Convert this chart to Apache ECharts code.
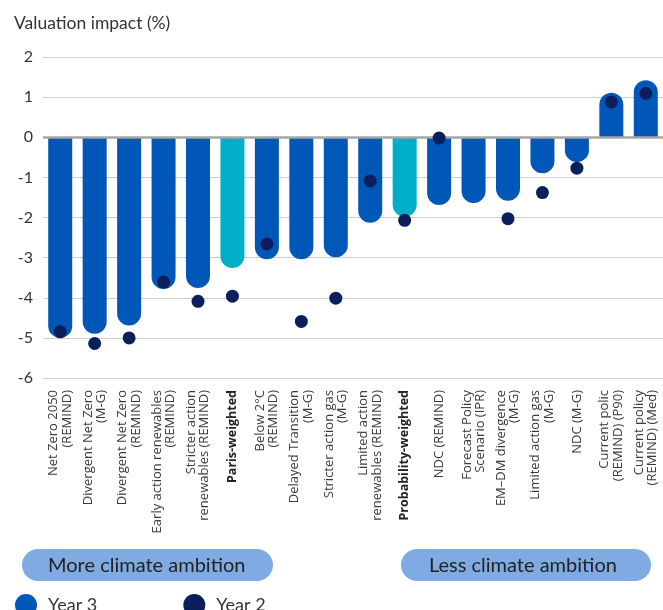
<!DOCTYPE html>
<html><head><meta charset="utf-8">
<script src="https://cdn.jsdelivr.net/npm/echarts@6/dist/echarts.min.js"></script>
<style>html,body{margin:0;padding:0;background:#fff}#c{width:663px;height:610px}</style>
</head><body><div id="c"></div>
<script>
const categories = [
  "Net Zero 2050\n(REMIND)",
  "Divergent Net Zero\n(M-G)",
  "Divergent Net Zero\n(REMIND)",
  "Early action renewables\n(REMIND)",
  "Stricter action\nrenewables (REMIND)",
  "Paris-weighted",
  "Below 2°C\n(REMIND)",
  "Delayed Transition\n(M-G)",
  "Stricter action gas\n(M-G)",
  "Limited action\nrenewables (REMIND)",
  "Probability-weighted",
  "NDC (REMIND)",
  "Forecast Policy\nScenario (IPR)",
  "EM–DM divergence\n(M-G)",
  "Limited action gas\n(M-G)",
  "NDC (M-G)",
  "Current polic\n(REMIND) (P90)",
  "Current policy\n(REMIND) (Med)"
];
const weightedCategories = ["Paris-weighted", "Probability-weighted"];
const year3 = [-5.0, -4.9, -4.69, -3.78, -3.76, -3.26, -3.04, -3.04, -2.99, -2.13, -1.98, -1.69, -1.64, -1.58, -0.9, -0.62, 1.11, 1.42];
const year2 = [-4.85, -5.14, -5.0, -3.61, -4.09, -3.96, -2.66, -4.59, -4.01, -1.09, -2.07, -0.02, null, -2.03, -1.38, -0.77, 0.88, 1.09];
const yTicks = {min: -6, max: 2, interval: 1};

const BLUE = '#0057b8', TEAL = '#00afc7', NAVY = '#0a1f5c';
const FONT = 'Lato';
const LFONT = 'Open Sans';

const barData = year3.map((v, i) => ({
  value: v,
  itemStyle: {
    color: weightedCategories.includes(categories[i]) ? TEAL : BLUE,
    borderRadius: v >= 0 ? [12, 12, 0, 0] : [0, 0, 12, 12]
  }
}));

const chart = echarts.init(document.getElementById('c'), null, {renderer: 'canvas'});
chart.setOption({
  animation: false,
  textStyle: {fontFamily: FONT},
  title: {
    text: 'Valuation impact (%)', left: 9, top: 9,
    textStyle: {fontFamily: FONT, fontSize: 17.5, fontWeight: 'normal', color: '#333'}
  },
  grid: {left: 43, right: 0, top: 57, bottom: 232, containLabel: false},
  legend: {
    left: 10, top: 589, itemWidth: 22, itemHeight: 22, itemGap: 86,
    icon: 'circle',
    textStyle: {fontFamily: FONT, fontSize: 18, color: '#333', padding: [0, 0, 0, 6]},
    data: ['Year 3', 'Year 2']
  },
  xAxis: {
    type: 'category', data: categories,
    axisLine: {show: false}, axisTick: {show: false},
    axisLabel: {
      interval: 0, rotate: 90, margin: 12, fontSize: 13, lineHeight: 13.5, color: '#3a3a3a',
      fontFamily: LFONT,
      formatter: v => weightedCategories.includes(v) ? '{b|' + v + '}' : v,
      rich: {b: {fontWeight: 'bold', fontSize: 12.5, fontFamily: LFONT, color: '#222'}}
    }
  },
  yAxis: {
    type: 'value', min: yTicks.min, max: yTicks.max, interval: yTicks.interval,
    axisLine: {show: false}, axisTick: {show: false},
    axisLabel: {fontSize: 16, color: '#333', margin: 10, fontFamily: FONT},
    splitLine: {lineStyle: {color: '#cccccc', width: 1}}
  },
  graphic: [
    {type: 'rect', left: 22, top: 549, shape: {width: 251, height: 32, r: 16}, style: {fill: '#7fabe2'}},
    {type: 'text', left: 48, top: 556, style: {text: 'More climate ambition', font: '20px ' + FONT, fill: '#222'}},
    {type: 'rect', left: 401, top: 549, shape: {width: 250, height: 32, r: 16}, style: {fill: '#7fabe2'}},
    {type: 'text', left: 429, top: 556, style: {text: 'Less climate ambition', font: '20px ' + FONT, fill: '#222'}}
  ],
  series: [
    {
      name: 'Year 3', type: 'bar', data: barData, barWidth: 24, color: BLUE,
      markLine: {
        silent: true, symbol: 'none', label: {show: false},
        lineStyle: {color: '#a6a6a6', width: 2.5, type: 'solid'},
        data: [{yAxis: 0}]
      }
    },
    {
      name: 'Year 2', type: 'scatter', data: year2, symbolSize: 13, color: NAVY,
      itemStyle: {color: NAVY, opacity: 1}, z: 5
    }
  ]
});
</script></body></html>
